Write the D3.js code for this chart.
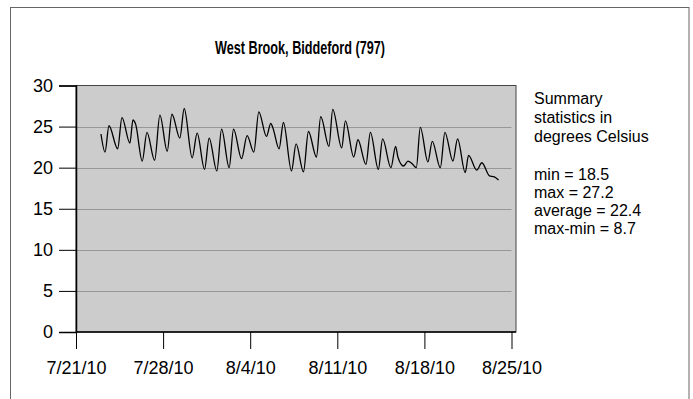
<!DOCTYPE html>
<html>
<head>
<meta charset="utf-8">
<script src="https://cdn.jsdelivr.net/npm/d3@7"></script>
<style>
  html, body { margin: 0; padding: 0; background: #fff; }
  svg { display: block; font-family: "Liberation Sans", Arial, sans-serif; }
</style>
</head>
<body>
<svg id="chart" width="693" height="399"></svg>
<script>
// ---- data ----
const chartTitle = "West Brook, Biddeford (797)";
const times = [
  "2010-07-23 00:10","2010-07-23 08:00","2010-07-23 15:35","2010-07-24 08:20","2010-07-24 16:40",
  "2010-07-25 08:00","2010-07-25 13:50","2010-07-25 19:00","2010-07-26 07:45","2010-07-26 16:50",
  "2010-07-27 07:40","2010-07-27 17:50","2010-07-28 07:55","2010-07-28 17:00","2010-07-29 08:20",
  "2010-07-29 16:40","2010-07-30 08:05","2010-07-30 17:40","2010-07-31 07:55","2010-07-31 16:50",
  "2010-08-01 07:40","2010-08-01 16:50","2010-08-02 07:25","2010-08-02 15:50","2010-08-03 07:20",
  "2010-08-03 18:00","2010-08-04 07:00","2010-08-04 16:35","2010-08-05 07:25","2010-08-05 15:40",
  "2010-08-05 20:00","2010-08-06 07:40","2010-08-06 16:05","2010-08-07 07:40","2010-08-07 16:30",
  "2010-08-08 06:45","2010-08-08 16:20","2010-08-09 07:45","2010-08-09 16:00","2010-08-10 08:00",
  "2010-08-10 15:10","2010-08-11 08:30","2010-08-11 15:35","2010-08-12 07:40","2010-08-12 15:50",
  "2010-08-13 07:15","2010-08-13 15:50","2010-08-14 07:10","2010-08-14 15:25","2010-08-15 07:25",
  "2010-08-15 16:30","2010-08-15 20:50","2010-08-16 07:50","2010-08-16 16:20","2010-08-17 00:00",
  "2010-08-17 08:25","2010-08-17 16:05","2010-08-18 06:45","2010-08-18 15:10","2010-08-19 06:45",
  "2010-08-19 15:35","2010-08-20 07:00","2010-08-20 16:00","2010-08-21 06:45","2010-08-21 13:10",
  "2010-08-22 05:00","2010-08-22 14:50","2010-08-23 05:30","2010-08-23 13:55","2010-08-23 23:00"
];
const temps = [
  24.1, 21.9, 25.1, 22.3, 26.1,
  23.0, 25.8, 25.3, 20.8, 24.3,
  20.9, 26.4, 22.0, 26.5, 23.6,
  27.2, 21.2, 24.2, 19.8, 23.6,
  19.6, 24.7, 20.0, 24.7, 21.1,
  23.9, 21.9, 26.8, 23.8, 25.4,
  24.8, 22.3, 25.5, 19.6, 22.9,
  19.5, 24.4, 21.3, 26.2, 22.6,
  27.1, 22.4, 25.7, 21.3, 23.4,
  20.4, 24.3, 19.8, 23.5, 20.0,
  22.6, 21.3, 20.2, 20.8, 20.5,
  20.0, 24.9, 20.7, 23.2, 20.0,
  24.3, 20.8, 23.5, 19.4, 21.5,
  19.7, 20.6, 19.0, 18.9, 18.5
];
const yTicks = [0, 5, 10, 15, 20, 25, 30];
const xTickLabels = ["7/21/10", "7/28/10", "8/4/10", "8/11/10", "8/18/10", "8/25/10"];
const summaryHeader = ["Summary", "statistics in", "degrees Celsius"];
const summaryStats = ["min = 18.5", "max = 27.2", "average = 22.4", "max-min = 8.7"];

// ---- drawing ----
const parseT = d3.timeParse("%Y-%m-%d %H:%M");
const parseTick = d3.timeParse("%m/%d/%y");
const data = times.map((t, i) => ({ t: parseT(t), v: temps[i] }));
const tickDates = xTickLabels.map(s => parseTick(s));

const svg = d3.select("#chart");
const plot = { left: 76, right: 516, top: 85.5, bottom: 332 };
const gridRight = 511.5;

// outer frame
svg.append("rect").attr("x", 10.5).attr("y", 7.5).attr("width", 678.5).attr("height", 420)
  .attr("fill", "#fff").attr("stroke", "#666").attr("stroke-width", 1);

const x = d3.scaleTime().domain([tickDates[0], tickDates[tickDates.length - 1]]).range([plot.left, gridRight]);
const y = d3.scaleLinear().domain([0, 30]).range([plot.bottom, plot.top]);

// plot background
svg.append("rect").attr("x", plot.left).attr("y", plot.top)
  .attr("width", plot.right - plot.left).attr("height", plot.bottom - plot.top)
  .attr("fill", "#cccccc").attr("stroke", "#444").attr("stroke-width", 1);

// gridlines
svg.append("g").selectAll("line").data(yTicks.filter(d => d > 0 && d < 30)).join("line")
  .attr("x1", plot.left).attr("x2", gridRight)
  .attr("y1", d => Math.round(y(d)) + 0.5).attr("y2", d => Math.round(y(d)) + 0.5)
  .attr("stroke", "#979797").attr("stroke-width", 1);

// y axis
const yAxis = d3.axisLeft(y).tickValues(yTicks).tickSize(17).tickPadding(6).tickFormat(d3.format("d"));
const gy = svg.append("g").attr("transform", `translate(${plot.left},0)`).call(yAxis);
gy.select(".domain").attr("stroke", "#000").attr("stroke-width", 1.5);
gy.selectAll(".tick line").attr("stroke", "#000");
gy.selectAll(".tick text").attr("font-size", 18).attr("fill", "#000")
  .attr("font-family", "Liberation Sans, Arial, sans-serif");

// x axis
const xAxis = d3.axisBottom(x).tickValues(tickDates).tickSize(17).tickPadding(12)
  .tickFormat((d, i) => xTickLabels[i]);
const gx = svg.append("g").attr("transform", `translate(0,${plot.bottom})`).call(xAxis);
gx.select(".domain").attr("stroke", "#000").attr("stroke-width", 1.5)
  .attr("d", `M${plot.left},0H${plot.right}`);
gx.selectAll(".tick line").attr("stroke", "#000");
gx.selectAll(".tick text").attr("font-size", 18).attr("fill", "#000")
  .attr("font-family", "Liberation Sans, Arial, sans-serif");

// line
const line = d3.line().x(d => x(d.t)).y(d => y(d.v)).curve(d3.curveMonotoneX);
svg.append("path").datum(data).attr("d", line)
  .attr("fill", "none").attr("stroke", "#000").attr("stroke-width", 1.3);

// title (condensed bold)
svg.append("text").attr("x", 300).attr("y", 54).attr("text-anchor", "middle")
  .attr("font-size", 19).attr("font-weight", "bold").attr("fill", "#000")
  .attr("textLength", 170).attr("lengthAdjust", "spacingAndGlyphs")
  .text(chartTitle);

// summary
svg.append("g").selectAll("text").data(summaryHeader).join("text")
  .attr("x", 534).attr("y", (d, i) => 104 + i * 18.8)
  .attr("font-size", 16).attr("fill", "#000").text(d => d);
svg.append("g").selectAll("text").data(summaryStats).join("text")
  .attr("x", 534).attr("y", (d, i) => 180 + i * 17.9)
  .attr("font-size", 16).attr("fill", "#000").text(d => d);
</script>
</body>
</html>
